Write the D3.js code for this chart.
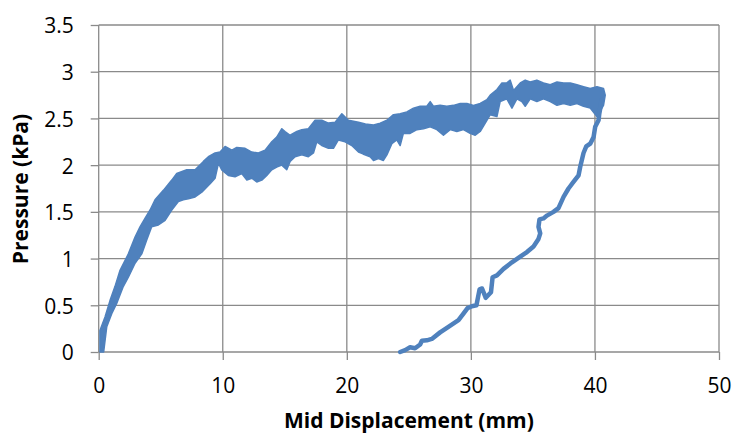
<!DOCTYPE html>
<html>
  <head>
    <meta charset="UTF-8" />
    <script src="https://cdnjs.cloudflare.com/ajax/libs/d3/7.8.5/d3.min.js"></script>
    <style>
      body { margin: 0; background: #fff; }
      svg { display: block; }
      .grid line { stroke: #8a8a8a; stroke-width: 1.3; }
      .axis text { font-family: "Open Sans", sans-serif; font-size: 21px; fill: #000; }
      .axis line { stroke: #8a8a8a; stroke-width: 1.3; }
      .title { font-family: "Open Sans", sans-serif; font-size: 21px; font-weight: bold; fill: #000; }
      path.loading { fill: #4f81bd; stroke: #4f81bd; stroke-width: 1.5; stroke-linejoin: round; }
      path.unloading { fill: none; stroke: #4f81bd; stroke-width: 4.5; stroke-linejoin: round; stroke-linecap: round; }
    </style>
  </head>
  <body>
    <svg width="734" height="434"></svg>
    <script>
      // tick values
      var xTicks = [0, 10, 20, 30, 40, 50];
      var yTicks = [0, 0.5, 1, 1.5, 2, 2.5, 3, 3.5];

      // loading branch: noisy band, upper edge [mm, kPa]
      var loadUpper = [
        [0.10, 0.00], [0.10, 0.23], [0.51, 0.375], [0.91, 0.55], [1.31, 0.70], [1.72, 0.875],
        [2.39, 1.05], [2.93, 1.23], [3.33, 1.34], [3.73, 1.43], [4.14, 1.52], [4.54, 1.63],
        [5.21, 1.73], [5.89, 1.84], [6.29, 1.91], [7.10, 1.95], [7.77, 1.95], [8.44, 2.04],
        [8.84, 2.09], [9.38, 2.13], [9.78, 2.14], [10.19, 2.20], [10.73, 2.16], [11.13, 2.19],
        [11.80, 2.18], [12.34, 2.14], [12.87, 2.13], [13.41, 2.16], [13.95, 2.25], [14.35, 2.30],
        [14.76, 2.39], [15.02, 2.36], [15.43, 2.32], [15.97, 2.36], [16.37, 2.38], [16.90, 2.39],
        [17.44, 2.48], [17.98, 2.48], [18.52, 2.45], [19.06, 2.46], [19.60, 2.55], [20.13, 2.48],
        [20.94, 2.46], [21.50, 2.44], [22.15, 2.43], [22.69, 2.45], [23.23, 2.48], [23.76, 2.54],
        [24.30, 2.55], [24.84, 2.57], [25.37, 2.61], [25.91, 2.63], [26.45, 2.63], [26.72, 2.68],
        [26.98, 2.63], [27.52, 2.64], [28.06, 2.63], [28.60, 2.64], [29.14, 2.66], [29.68, 2.66],
        [30.21, 2.64], [30.75, 2.66], [31.29, 2.70], [31.56, 2.75], [32.10, 2.81], [32.50, 2.88],
        [32.90, 2.88], [33.17, 2.91], [33.44, 2.80], [33.98, 2.88], [34.38, 2.91], [34.78, 2.89],
        [35.32, 2.91], [35.85, 2.88], [36.40, 2.86], [36.94, 2.89], [37.47, 2.88], [38.01, 2.88],
        [38.55, 2.86], [39.08, 2.84], [39.62, 2.82], [40.16, 2.84], [40.69, 2.82], [40.83, 2.75]
      ];

      // loading branch: lower edge
      var loadLower = [
        [0.40, 0.00], [0.65, 0.27], [1.05, 0.41], [1.45, 0.52], [1.98, 0.70], [2.39, 0.80],
        [2.93, 0.95], [3.47, 1.05], [3.87, 1.20], [4.27, 1.34], [4.81, 1.36], [5.35, 1.41],
        [5.89, 1.52], [6.42, 1.61], [6.82, 1.63], [7.23, 1.64], [7.77, 1.66], [8.31, 1.71],
        [8.98, 1.80], [9.38, 1.86], [9.65, 2.02], [9.92, 1.95], [10.45, 1.89], [10.99, 1.875],
        [11.53, 1.91], [11.94, 1.84], [12.34, 1.86], [12.74, 1.82], [13.15, 1.84], [13.55, 1.89],
        [13.95, 1.95], [14.35, 1.98], [14.76, 2.00], [15.16, 1.95], [15.43, 2.04], [15.83, 2.09],
        [16.37, 2.11], [16.90, 2.09], [17.31, 2.13], [17.58, 2.25], [17.98, 2.21], [18.52, 2.18],
        [18.92, 2.18], [19.32, 2.27], [19.86, 2.25], [20.40, 2.21], [20.94, 2.14], [21.30, 2.12],
        [21.88, 2.09], [22.15, 2.05], [22.55, 2.07], [22.95, 2.05], [23.23, 2.11], [23.63, 2.23],
        [24.03, 2.27], [24.30, 2.21], [24.56, 2.34], [25.10, 2.34], [25.65, 2.38], [26.18, 2.39],
        [26.72, 2.41], [27.26, 2.38], [27.79, 2.32], [28.33, 2.38], [28.87, 2.36], [29.40, 2.38],
        [29.94, 2.34], [30.35, 2.32], [30.75, 2.36], [31.29, 2.48], [31.56, 2.54], [32.10, 2.52],
        [32.36, 2.68], [32.90, 2.71], [33.31, 2.61], [33.71, 2.71], [34.11, 2.68], [34.38, 2.63],
        [34.78, 2.71], [35.32, 2.68], [35.85, 2.71], [36.40, 2.68], [36.94, 2.64], [37.47, 2.66],
        [38.01, 2.64], [38.55, 2.66], [39.08, 2.63], [39.62, 2.61], [40.16, 2.52], [40.69, 2.64]
      ];

      // unloading branch
      var unload = [
        [40.55, 2.70], [40.35, 2.55], [40.29, 2.48], [40.02, 2.41], [39.89, 2.30], [39.62, 2.23],
        [39.30, 2.20], [39.08, 2.13], [38.81, 1.98], [38.68, 1.89], [38.27, 1.82], [37.87, 1.75],
        [37.47, 1.66], [37.06, 1.54], [36.66, 1.50], [36.13, 1.46], [35.85, 1.43], [35.53, 1.42],
        [35.45, 1.34], [35.59, 1.27], [35.45, 1.21], [35.05, 1.13], [34.52, 1.07], [33.98, 1.02],
        [33.31, 0.96], [32.63, 0.89], [32.10, 0.82], [31.75, 0.80], [31.62, 0.64], [31.20, 0.58],
        [30.90, 0.68], [30.70, 0.67], [30.45, 0.50], [30.08, 0.49], [29.73, 0.47], [29.40, 0.41],
        [29.00, 0.34], [28.19, 0.27], [27.52, 0.21], [26.85, 0.14], [26.45, 0.125], [26.05, 0.12],
        [25.91, 0.08], [25.50, 0.04], [25.10, 0.05], [24.70, 0.02], [24.30, 0.00]
      ];

      var margin = { top: 25, right: 15, bottom: 82, left: 98.7 };
      var width = 734 - margin.left - margin.right;
      var height = 434 - margin.top - margin.bottom;

      var svg = d3.select("svg");
      var g = svg.append("g").attr("transform", "translate(" + margin.left + "," + margin.top + ")");

      var x = d3.scaleLinear().domain([0, 50]).range([0, width]);
      var y = d3.scaleLinear().domain([0, 3.5]).range([height, 0]);

      // gridlines
      var grid = g.append("g").attr("class", "grid");
      grid.selectAll("line.h")
        .data(yTicks)
        .enter()
        .append("line")
        .attr("class", "h")
        .attr("x1", 0)
        .attr("x2", width)
        .attr("y1", d => y(d))
        .attr("y2", d => y(d));
      grid.selectAll("line.v")
        .data(xTicks)
        .enter()
        .append("line")
        .attr("class", "v")
        .attr("y1", 0)
        .attr("y2", height)
        .attr("x1", d => x(d))
        .attr("x2", d => x(d));

      // axes
      var yAxis = g.append("g")
        .attr("class", "axis")
        .call(d3.axisLeft(y).tickValues(yTicks).tickSize(8).tickPadding(17).tickFormat(d3.format("")));
      yAxis.select(".domain").remove();
      yAxis.selectAll("text").attr("dy", "0.38em");

      var xAxis = g.append("g")
        .attr("class", "axis")
        .attr("transform", "translate(0," + height + ")")
        .call(d3.axisBottom(x).tickValues(xTicks).tickSize(8).tickPadding(18).tickFormat(d3.format("")));
      xAxis.select(".domain").remove();

      // data
      var line = d3.line().x(d => x(d[0])).y(d => y(d[1]));

      var band = loadUpper.concat(loadLower.slice().reverse());
      g.append("path")
        .datum(band)
        .attr("class", "loading")
        .attr("d", d => line(d) + "Z");

      g.append("path")
        .datum(unload)
        .attr("class", "unloading")
        .attr("d", line);

      // titles
      svg.append("text")
        .attr("class", "title")
        .attr("text-anchor", "middle")
        .attr("x", margin.left + width / 2)
        .attr("y", 428)
        .text("Mid Displacement (mm)");

      svg.append("text")
        .attr("class", "title")
        .attr("text-anchor", "middle")
        .attr("transform", "translate(28,189) rotate(-90)")
        .text("Pressure (kPa)");
    </script>
  </body>
</html>
